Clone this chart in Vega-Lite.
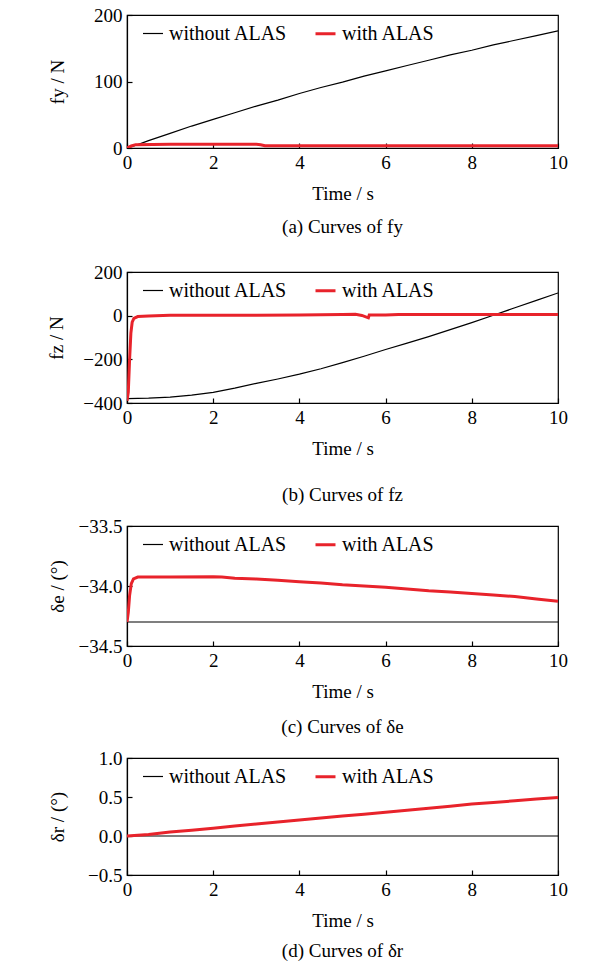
{
  "$schema": "https://vega.github.io/schema/vega-lite/v6.json",
  "padding": {"left": 47, "top": 5, "right": 10, "bottom": 0},
  "background": "white",
  "config": {
    "font": "Liberation Serif",
    "view": {"stroke": "#000000", "strokeWidth": 1.2},
    "axis": {
      "labelFont": "Liberation Serif", "titleFont": "Liberation Serif",
      "labelFontSize": 19, "titleFontSize": 19, "titleFontWeight": "normal",
      "labelColor": "#000000", "titleColor": "#000000",
      "domainColor": "#000000", "domainWidth": 1.2,
      "tickColor": "#000000", "tickSize": -5, "tickWidth": 1.2,
      "grid": false, "labelPadding": 10, "labelFlush": false, "labelOverlap": false
    },
    "axisX": {"titlePadding": 12},
    "legend": {
      "orient": "none", "legendX": 15, "legendY": 7, "direction": "horizontal", "title": null,
      "labelFont": "Liberation Serif", "labelFontSize": 20, "labelColor": "#000000",
      "symbolType": "stroke", "symbolSize": 400, "labelOffset": 5, "columnPadding": 21
    },
    "title": {"font": "Liberation Serif", "fontSize": 19, "fontWeight": "normal", "color": "#000000", "orient": "bottom", "frame": "group"}
  },
  "datasets": {
    "a": [
      {"s": "without ALAS", "t": 0, "v": 0}, {"s": "without ALAS", "t": 0.25, "v": 5}, {"s": "without ALAS", "t": 0.5, "v": 11},
      {"s": "without ALAS", "t": 1, "v": 22}, {"s": "without ALAS", "t": 1.5, "v": 33}, {"s": "without ALAS", "t": 2, "v": 43},
      {"s": "without ALAS", "t": 2.5, "v": 53}, {"s": "without ALAS", "t": 3, "v": 63}, {"s": "without ALAS", "t": 3.5, "v": 72},
      {"s": "without ALAS", "t": 4, "v": 82}, {"s": "without ALAS", "t": 4.5, "v": 91}, {"s": "without ALAS", "t": 5, "v": 99},
      {"s": "without ALAS", "t": 5.5, "v": 108}, {"s": "without ALAS", "t": 6, "v": 116}, {"s": "without ALAS", "t": 6.5, "v": 124},
      {"s": "without ALAS", "t": 7, "v": 132}, {"s": "without ALAS", "t": 7.5, "v": 140}, {"s": "without ALAS", "t": 8, "v": 147},
      {"s": "without ALAS", "t": 8.5, "v": 155}, {"s": "without ALAS", "t": 9, "v": 162}, {"s": "without ALAS", "t": 9.5, "v": 169},
      {"s": "without ALAS", "t": 10, "v": 176},
      {"s": "with ALAS", "t": 0, "v": 0}, {"s": "with ALAS", "t": 0.1, "v": 3}, {"s": "with ALAS", "t": 0.2, "v": 5},
      {"s": "with ALAS", "t": 1, "v": 5.5}, {"s": "with ALAS", "t": 2, "v": 5.5}, {"s": "with ALAS", "t": 3, "v": 5.5},
      {"s": "with ALAS", "t": 3.1, "v": 5}, {"s": "with ALAS", "t": 3.2, "v": 3.5}, {"s": "with ALAS", "t": 4, "v": 3.5},
      {"s": "with ALAS", "t": 6, "v": 3.5}, {"s": "with ALAS", "t": 8, "v": 3.5}, {"s": "with ALAS", "t": 10, "v": 3.5}
    ],
    "b": [
      {"s": "without ALAS", "t": 0, "v": -380}, {"s": "without ALAS", "t": 0.5, "v": -378}, {"s": "without ALAS", "t": 1, "v": -373},
      {"s": "without ALAS", "t": 1.5, "v": -364}, {"s": "without ALAS", "t": 2, "v": -351}, {"s": "without ALAS", "t": 2.5, "v": -332},
      {"s": "without ALAS", "t": 3, "v": -310}, {"s": "without ALAS", "t": 3.5, "v": -290}, {"s": "without ALAS", "t": 4, "v": -268},
      {"s": "without ALAS", "t": 4.5, "v": -243}, {"s": "without ALAS", "t": 5, "v": -215}, {"s": "without ALAS", "t": 5.5, "v": -186},
      {"s": "without ALAS", "t": 6, "v": -155}, {"s": "without ALAS", "t": 6.5, "v": -126}, {"s": "without ALAS", "t": 7, "v": -96},
      {"s": "without ALAS", "t": 7.5, "v": -64}, {"s": "without ALAS", "t": 8, "v": -32}, {"s": "without ALAS", "t": 8.5, "v": 2},
      {"s": "without ALAS", "t": 9, "v": 36}, {"s": "without ALAS", "t": 9.5, "v": 70}, {"s": "without ALAS", "t": 10, "v": 104},
      {"s": "with ALAS", "t": 0, "v": -390}, {"s": "with ALAS", "t": 0.03, "v": -350}, {"s": "with ALAS", "t": 0.06, "v": -200},
      {"s": "with ALAS", "t": 0.09, "v": -80}, {"s": "with ALAS", "t": 0.12, "v": -30}, {"s": "with ALAS", "t": 0.16, "v": -12},
      {"s": "with ALAS", "t": 0.25, "v": -4}, {"s": "with ALAS", "t": 0.5, "v": -2}, {"s": "with ALAS", "t": 1, "v": 2},
      {"s": "with ALAS", "t": 2, "v": 2}, {"s": "with ALAS", "t": 3, "v": 2}, {"s": "with ALAS", "t": 4, "v": 3},
      {"s": "with ALAS", "t": 5, "v": 5}, {"s": "with ALAS", "t": 5.3, "v": 6}, {"s": "with ALAS", "t": 5.45, "v": 1},
      {"s": "with ALAS", "t": 5.6, "v": -10}, {"s": "with ALAS", "t": 5.62, "v": 3}, {"s": "with ALAS", "t": 6, "v": 3},
      {"s": "with ALAS", "t": 6.3, "v": 5}, {"s": "with ALAS", "t": 7, "v": 5}, {"s": "with ALAS", "t": 8, "v": 5},
      {"s": "with ALAS", "t": 9, "v": 5}, {"s": "with ALAS", "t": 10, "v": 5}
    ],
    "c": [
      {"s": "without ALAS", "t": 0, "v": -34.3}, {"s": "without ALAS", "t": 5, "v": -34.3}, {"s": "without ALAS", "t": 10, "v": -34.3},
      {"s": "with ALAS", "t": 0, "v": -34.3}, {"s": "with ALAS", "t": 0.03, "v": -34.22}, {"s": "with ALAS", "t": 0.06, "v": -34.08},
      {"s": "with ALAS", "t": 0.1, "v": -33.98}, {"s": "with ALAS", "t": 0.15, "v": -33.94}, {"s": "with ALAS", "t": 0.25, "v": -33.925},
      {"s": "with ALAS", "t": 1, "v": -33.925}, {"s": "with ALAS", "t": 2, "v": -33.923}, {"s": "with ALAS", "t": 2.2, "v": -33.925},
      {"s": "with ALAS", "t": 2.5, "v": -33.935}, {"s": "with ALAS", "t": 3, "v": -33.942}, {"s": "with ALAS", "t": 3.5, "v": -33.953},
      {"s": "with ALAS", "t": 4, "v": -33.964}, {"s": "with ALAS", "t": 4.5, "v": -33.976}, {"s": "with ALAS", "t": 5, "v": -33.99},
      {"s": "with ALAS", "t": 5.5, "v": -34.0}, {"s": "with ALAS", "t": 6, "v": -34.01}, {"s": "with ALAS", "t": 6.5, "v": -34.025},
      {"s": "with ALAS", "t": 7, "v": -34.04}, {"s": "with ALAS", "t": 7.5, "v": -34.05}, {"s": "with ALAS", "t": 8, "v": -34.062},
      {"s": "with ALAS", "t": 8.5, "v": -34.075}, {"s": "with ALAS", "t": 9, "v": -34.088}, {"s": "with ALAS", "t": 9.5, "v": -34.108},
      {"s": "with ALAS", "t": 10, "v": -34.127}
    ],
    "d": [
      {"s": "without ALAS", "t": 0, "v": 0}, {"s": "without ALAS", "t": 5, "v": 0}, {"s": "without ALAS", "t": 10, "v": 0},
      {"s": "with ALAS", "t": 0, "v": 0}, {"s": "with ALAS", "t": 0.5, "v": 0.02}, {"s": "with ALAS", "t": 1, "v": 0.05},
      {"s": "with ALAS", "t": 1.5, "v": 0.075}, {"s": "with ALAS", "t": 2, "v": 0.1}, {"s": "with ALAS", "t": 2.5, "v": 0.127},
      {"s": "with ALAS", "t": 3, "v": 0.155}, {"s": "with ALAS", "t": 3.5, "v": 0.18}, {"s": "with ALAS", "t": 4, "v": 0.205},
      {"s": "with ALAS", "t": 4.5, "v": 0.23}, {"s": "with ALAS", "t": 5, "v": 0.255}, {"s": "with ALAS", "t": 5.5, "v": 0.28},
      {"s": "with ALAS", "t": 6, "v": 0.305}, {"s": "with ALAS", "t": 6.5, "v": 0.33}, {"s": "with ALAS", "t": 7, "v": 0.355},
      {"s": "with ALAS", "t": 7.5, "v": 0.382}, {"s": "with ALAS", "t": 8, "v": 0.41}, {"s": "with ALAS", "t": 8.5, "v": 0.43},
      {"s": "with ALAS", "t": 9, "v": 0.452}, {"s": "with ALAS", "t": 9.5, "v": 0.474}, {"s": "with ALAS", "t": 10, "v": 0.495}
    ]
  },
  "spacing": 10,
  "resolve": {"scale": {"y": "independent"}, "axis": {"y": "independent"}, "legend": {"color": "independent", "strokeWidth": "independent"}},
  "vconcat": [
    {
      "data": {"name": "a"}, "width": 431, "height": 133,
      "title": {"text": "(a) Curves of fy", "offset": 15, "subtitle": " ", "subtitleFontSize": 10, "subtitlePadding": 4},
      "mark": {"type": "line", "clip": true},
      "encoding": {
        "x": {"field": "t", "type": "quantitative", "scale": {"domain": [0, 10], "nice": false}, "axis": {"values": [0, 2, 4, 6, 8, 10], "title": "Time / s"}},
        "y": {"field": "v", "type": "quantitative", "scale": {"domain": [0, 200], "nice": false}, "axis": {"values": [0, 100, 200], "title": "fy / N", "titlePadding": 26}},
        "color": {"field": "s", "type": "nominal", "scale": {"domain": ["without ALAS", "with ALAS"], "range": ["#000000", "#e8232b"]}},
        "strokeWidth": {"field": "s", "type": "nominal", "scale": {"domain": ["without ALAS", "with ALAS"], "range": [1.2, 3]}}
      }
    },
    {
      "data": {"name": "b"}, "width": 431, "height": 131,
      "title": {"text": "(b) Curves of fz", "offset": 28},
      "mark": {"type": "line", "clip": true},
      "encoding": {
        "x": {"field": "t", "type": "quantitative", "scale": {"domain": [0, 10], "nice": false}, "axis": {"values": [0, 2, 4, 6, 8, 10], "title": "Time / s"}},
        "y": {"field": "v", "type": "quantitative", "scale": {"domain": [-400, 200], "nice": false}, "axis": {"values": [-400, -200, 0, 200], "title": "fz / N", "titlePadding": 16}},
        "color": {"field": "s", "type": "nominal", "scale": {"domain": ["without ALAS", "with ALAS"], "range": ["#000000", "#e8232b"]}},
        "strokeWidth": {"field": "s", "type": "nominal", "scale": {"domain": ["without ALAS", "with ALAS"], "range": [1.2, 3]}}
      }
    },
    {
      "data": {"name": "c"}, "width": 431, "height": 120,
      "title": {"text": "(c) Curves of δe", "offset": 17},
      "mark": {"type": "line", "clip": true},
      "encoding": {
        "x": {"field": "t", "type": "quantitative", "scale": {"domain": [0, 10], "nice": false}, "axis": {"values": [0, 2, 4, 6, 8, 10], "title": "Time / s"}},
        "y": {"field": "v", "type": "quantitative", "scale": {"domain": [-34.5, -33.5], "nice": false, "zero": false}, "axis": {"values": [-34.5, -34.0, -33.5], "format": ".1f", "title": "δe / (°)", "titlePadding": 11}},
        "color": {"field": "s", "type": "nominal", "scale": {"domain": ["without ALAS", "with ALAS"], "range": ["#000000", "#e8232b"]}},
        "strokeWidth": {"field": "s", "type": "nominal", "scale": {"domain": ["without ALAS", "with ALAS"], "range": [1.2, 3]}}
      }
    },
    {
      "data": {"name": "d"}, "width": 431, "height": 117,
      "title": {"text": "(d) Curves of δr", "offset": 12},
      "mark": {"type": "line", "clip": true},
      "encoding": {
        "x": {"field": "t", "type": "quantitative", "scale": {"domain": [0, 10], "nice": false}, "axis": {"values": [0, 2, 4, 6, 8, 10], "title": "Time / s"}},
        "y": {"field": "v", "type": "quantitative", "scale": {"domain": [-0.5, 1.0], "nice": false}, "axis": {"values": [-0.5, 0, 0.5, 1.0], "format": ".1f", "title": "δr / (°)", "titlePadding": 20}},
        "color": {"field": "s", "type": "nominal", "scale": {"domain": ["without ALAS", "with ALAS"], "range": ["#000000", "#e8232b"]}},
        "strokeWidth": {"field": "s", "type": "nominal", "scale": {"domain": ["without ALAS", "with ALAS"], "range": [1.2, 3]}}
      }
    }
  ]
}
